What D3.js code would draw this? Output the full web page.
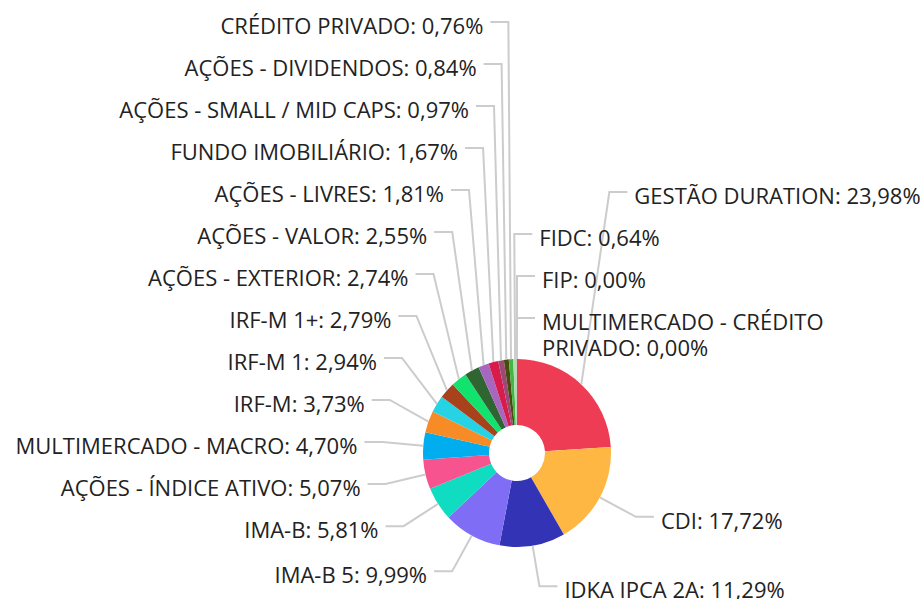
<!DOCTYPE html>
<html>
<head>
<meta charset="utf-8">
<script src="https://cdn.jsdelivr.net/npm/d3@7"></script>
<style>
  body { margin: 0; background: #fff; }
  svg text { font-family: "Open Sans", "Noto Sans", sans-serif; font-size: 22px; fill: #222; }
</style>
</head>
<body>
<svg id="chart" width="923" height="599"></svg>
<script>
const categories = [
  "GESTÃO DURATION", "CDI", "IDKA IPCA 2A", "IMA-B 5", "IMA-B",
  "AÇÕES - ÍNDICE ATIVO", "MULTIMERCADO - MACRO", "IRF-M", "IRF-M 1", "IRF-M 1+",
  "AÇÕES - EXTERIOR", "AÇÕES - VALOR", "AÇÕES - LIVRES", "FUNDO IMOBILIÁRIO",
  "AÇÕES - SMALL / MID CAPS", "AÇÕES - DIVIDENDOS", "CRÉDITO PRIVADO", "FIDC",
  "FIP", "MULTIMERCADO - CRÉDITO PRIVADO"
];
const values = [
  23.98, 17.72, 11.29, 9.99, 5.81,
  5.07, 4.70, 3.73, 2.94, 2.79,
  2.74, 2.55, 1.81, 1.67,
  0.97, 0.84, 0.76, 0.64,
  0.00, 0.00
];
const colors = [
  "#ee3c54", "#ffb743", "#3333b5", "#7f6ef5", "#0fdcc0",
  "#f7538e", "#00aeef", "#f78b26", "#26d3e4", "#a8421d",
  "#12e26e", "#2e6531", "#a867bf", "#d71c4c",
  "#9b4a78", "#4a4c0f", "#44b544", "#b3d9b3",
  "#999999", "#666666"
];

const width = 923, height = 599;
const cx = 517, cy = 453;
const outerR = 94, innerR = 28;
const len1 = 41, len2 = 18, gap = 7;
const rowH = 42, lineH = 26;
const topLimit = 17, rightLimit = 921;

const svg = d3.select("#chart");
const fmt = v => v.toFixed(2).replace(".", ",") + "%";

const data = categories.map((c, i) => ({ name: c, value: values[i], color: colors[i] }));

const pie = d3.pie().sort(null).value(d => d.value);
const arcs = pie(data);
const arc = d3.arc().innerRadius(innerR).outerRadius(outerR);

const g = svg.append("g").attr("transform", `translate(${cx},${cy})`);

// labels: elbow point on a bigger circle, side by angle
const labels = arcs.map((a, i) => {
  const mid = (a.startAngle + a.endAngle) / 2;
  return {
    i, mid,
    text: `${a.data.name}: ${fmt(a.data.value)}`,
    ex: cx + (outerR + len1) * Math.sin(mid),
    ey: cy - (outerR + len1) * Math.cos(mid),
    px: cx + outerR * Math.sin(mid),
    py: cy - outerR * Math.cos(mid),
    side: Math.sin(mid) > 0.001 ? 1 : -1
  };
});

// left column only holds so many rows; the ones closest to the top go right
const capacity = Math.floor(height / rowH);
let left = labels.filter(d => d.side < 0).sort((a, b) => a.ey - b.ey);
let moved = [];
if (left.length > capacity) {
  const extra = left.length - capacity;
  moved = left.slice().sort((a, b) => b.mid - a.mid).slice(0, extra).sort((a, b) => a.mid - b.mid);
  moved.forEach(d => d.side = 1);
  left = left.filter(d => d.side < 0);
}
const rightReg = labels.filter(d => d.side > 0 && !moved.includes(d)).sort((a, b) => a.ey - b.ey);
const right = [rightReg[0], ...moved, ...rightReg.slice(1)];

// measure text and wrap to the page width where needed
const meas = svg.append("text").attr("visibility", "hidden");
function textWidth(s) { meas.text(s); return meas.node().getComputedTextLength(); }
labels.forEach(d => {
  d.lines = [d.text];
  if (d.side > 0) {
    const x0 = d.ex + len2 + gap;
    if (x0 + textWidth(d.text) > rightLimit) {
      const lines = [];
      let cur = "";
      d.text.split(" ").forEach(w => {
        const t = cur ? cur + " " + w : w;
        if (cur && x0 + textWidth(t) > rightLimit) { lines.push(cur); cur = w; }
        else cur = t;
      });
      lines.push(cur);
      d.lines = lines;
    }
  }
});
meas.remove();

// push overlapping labels up from the bottom of each column
function layoutColumn(col) {
  col.forEach(d => d.y = d.ey);
  for (let k = col.length - 2; k >= 0; k--) {
    const need = rowH + (col[k].lines.length - 1) * lineH;
    col[k].y = Math.min(col[k].y, col[k + 1].y - need);
  }
  if (col[0].y < topLimit) {
    col[0].y = topLimit;
    for (let k = 1; k < col.length; k++) {
      const need = rowH + (col[k - 1].lines.length - 1) * lineH;
      col[k].y = Math.max(col[k].y, col[k - 1].y + need);
    }
  }
}
layoutColumn(left);
layoutColumn(right);

// leader lines
svg.append("g").selectAll("polyline")
  .data(labels)
  .enter().append("polyline")
  .attr("points", d => [[d.px, d.py], [d.ex, d.y], [d.ex + d.side * len2, d.y]].map(p => p.join(",")).join(" "))
  .attr("fill", "none")
  .attr("stroke", "#cccccc")
  .attr("stroke-width", 2);

// slices
g.selectAll("path.slice")
  .data(arcs)
  .enter().append("path")
  .attr("class", "slice")
  .attr("d", arc)
  .attr("fill", d => d.data.color);

const txt = svg.append("g").selectAll("text")
  .data(labels)
  .enter().append("text")
  .attr("x", d => d.ex + d.side * (len2 + gap))
  .attr("y", d => d.y + 12)
  .attr("text-anchor", d => d.side > 0 ? "start" : "end");

txt.selectAll("tspan")
  .data(d => d.lines.map((l, k) => ({ l, k, x: d.ex + d.side * (len2 + gap) })))
  .enter().append("tspan")
  .attr("x", d => d.x)
  .attr("dy", d => d.k === 0 ? 0 : lineH)
  .text(d => d.l);
</script>
</body>
</html>
